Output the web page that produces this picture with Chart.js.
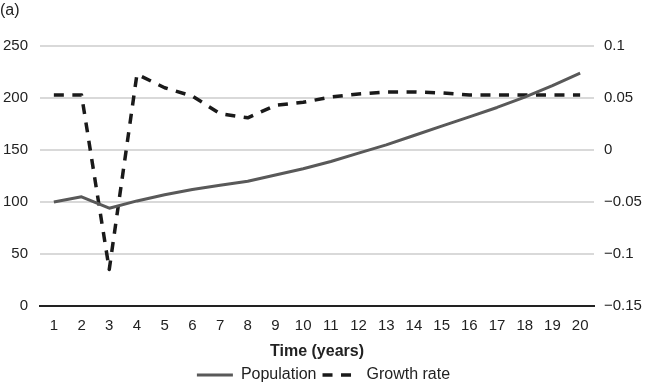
<!DOCTYPE html>
<html>
<head>
<meta charset="utf-8">
<script src="https://cdn.jsdelivr.net/npm/chart.js@4"></script>
<style>
  html, body { margin: 0; padding: 0; background: #fff; }
  #wrap { width: 647px; height: 385px; }
</style>
</head>
<body>
<div id="wrap"><canvas id="chart"></canvas></div>
<script>
// Data
const years = ["1", "2", "3", "4", "5", "6", "7", "8", "9", "10", "11", "12", "13", "14", "15", "16", "17", "18", "19", "20"];
const population = [100, 105, 94, 101, 107, 112, 116, 120, 126, 132, 139, 147, 155, 164, 173, 182, 191, 201, 212, 224];
const growthRate = [0.053, 0.053, -0.115, 0.073, 0.06, 0.052, 0.035, 0.031, 0.043, 0.046, 0.051, 0.054, 0.056, 0.056, 0.055, 0.053, 0.053, 0.053, 0.053, 0.053];

const family = "'Liberation Sans', Arial, sans-serif";
const tickFont = { family: family, size: 15 };

// Use a real minus sign on the right axis, like the original
function formatRate(value) {
    const v = Math.round(value * 100) / 100;
    return String(v).replace("-", "\u2212");
}

// Legend items taken from the datasets, keeping the dash pattern of each line
function legendLabels(chart) {
    const items = Chart.defaults.plugins.legend.labels.generateLabels(chart);
    items.forEach((item) => {
        const ds = chart.data.datasets[item.datasetIndex];
        item.lineDash = ds.borderDash || [];
        item.strokeStyle = ds.borderColor;
        item.lineWidth = ds.borderWidth;
    });
    return items;
}

const ctx = document.getElementById("chart").getContext("2d");

new Chart(ctx, {
    type: "line",
    data: {
        labels: years,
        datasets: [
            {
                label: "Population",
                data: population,
                yAxisID: "y",
                borderColor: "#595959",
                borderWidth: 3,
                borderJoinStyle: "round",
                pointRadius: 0,
                tension: 0,
            },
            {
                label: "Growth rate",
                data: growthRate,
                yAxisID: "y2",
                borderColor: "#1a1a1a",
                borderWidth: 3.5,
                borderDash: [10, 8.5],
                borderJoinStyle: "round",
                pointRadius: 0,
                tension: 0,
            },
        ],
    },
    options: {
        responsive: true,
        maintainAspectRatio: false,
        animation: false,
        layout: { padding: { left: 0, right: 0, top: 0, bottom: -8 } },
        plugins: {
            title: {
                display: true,
                text: "(a)",
                align: "start",
                color: "#222",
                font: { family: family, size: 16, weight: "normal" },
                padding: { top: 1, bottom: 26 },
            },
            legend: {
                position: "bottom",
                labels: {
                    usePointStyle: true,
                    pointStyle: "line",
                    pointStyleWidth: 36,
                    color: "#222",
                    font: { family: family, size: 16 },
                    padding: 6,
                    generateLabels: legendLabels,
                },
            },
            tooltip: { enabled: false },
        },
        scales: {
            x: {
                offset: true,
                grid: { display: false },
                border: { color: "#222", width: 2 },
                ticks: { color: "#222", font: tickFont, padding: 3 },
                title: {
                    display: true,
                    text: "Time (years)",
                    color: "#222",
                    font: { family: family, size: 16, weight: "bold" },
                    padding: { top: 4, bottom: 0 },
                },
            },
            y: {
                position: "left",
                min: 0,
                max: 250,
                afterFit: (scale) => { scale.width = 40; },
                ticks: { stepSize: 50, color: "#222", font: tickFont, padding: 12 },
                grid: { color: "#d9d9d9", lineWidth: 2, drawTicks: false },
                border: { display: false },
            },
            y2: {
                position: "right",
                min: -0.15,
                max: 0.1,
                afterFit: (scale) => { scale.width = 53; },
                ticks: {
                    stepSize: 0.05,
                    color: "#222",
                    font: tickFont,
                    padding: 10,
                    callback: formatRate,
                },
                grid: { display: false, drawTicks: false },
                border: { display: false },
            },
        },
    },
});
</script>
</body>
</html>
